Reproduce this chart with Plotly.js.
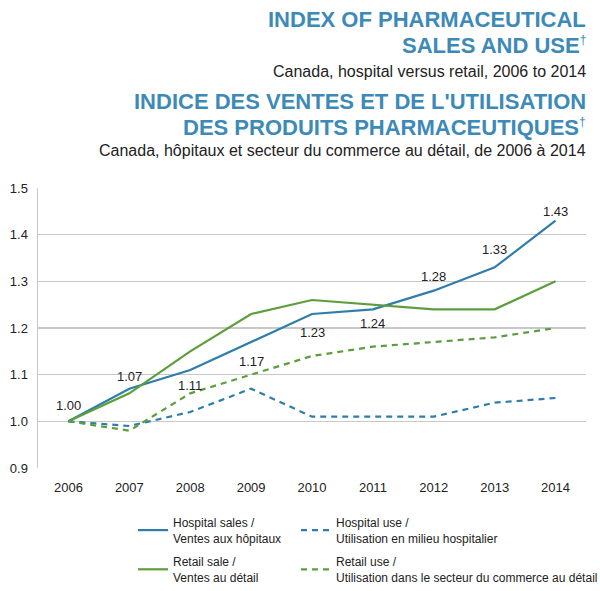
<!DOCTYPE html>
<html><head><meta charset="utf-8">
<script src="https://cdn.plot.ly/plotly-3.0.1.min.js"></script>
<style>body{margin:0;background:#fff}#c{width:600px;height:591px}</style>
</head><body><div id="c"></div>
<script>
const years = ['2006','2007','2008','2009','2010','2011','2012','2013','2014'];
const hospitalSales = [1.00,1.07,1.11,1.17,1.23,1.24,1.28,1.33,1.43];
const retailSales   = [1.00,1.06,1.15,1.23,1.26,1.25,1.24,1.24,1.30];
const hospitalUse   = [1.00,0.99,1.02,1.07,1.01,1.01,1.01,1.04,1.05];
const retailUse     = [1.00,0.98,1.06,1.10,1.14,1.16,1.17,1.18,1.20];
const labelText = ['1.00','1.07','1.11','1.17','1.23','1.24','1.28','1.33','1.43'];
const seriesNames = ['Hospital sales /<br>Ventes aux hôpitaux','Hospital use /<br>Utilisation en milieu hospitalier','Retail sale /<br>Ventes au détail','Retail use /<br>Utilisation dans le secteur du commerce au détail'];

const BLUE='#2f7dab', GREEN='#5c9e3c', TBLUE='#3d8ab8';
const TFONT='Liberation Sans, Arial, sans-serif';
const traces = [
 {x:years,y:hospitalSales,name:seriesNames[0],mode:'lines',line:{color:BLUE,width:2.2},legend:'legend',legendgroup:'a'},
 {x:years,y:retailSales,name:seriesNames[2],mode:'lines',line:{color:GREEN,width:2.2},legend:'legend',legendgroup:'b'},
 {x:years,y:hospitalUse,name:seriesNames[1],mode:'lines',line:{color:BLUE,width:2.2,dash:'6px,5px'},legend:'legend2',legendgroup:'c'},
 {x:years,y:retailUse,name:seriesNames[3],mode:'lines',line:{color:GREEN,width:2.2,dash:'6px,5px'},legend:'legend2',legendgroup:'d'}
];
// label offsets (px) relative to each hospital-sales point
const off = [[0,16],[0,12],[0,-15],[0,-19],[0,-18],[0,-14],[0,14],[0,18],[0,9]];
const ann = labelText.map((t,i)=>({x:i,y:hospitalSales[i],xref:'x',yref:'y',text:t,showarrow:false,
  xshift:off[i][0],yshift:off[i][1],font:{family:'Liberation Sans, Arial',size:13,color:'#222'}}));
const dag = '<sup><span style="font-size:12px">†</span></sup>';
const titles = [
 {t:'<b>INDEX OF PHARMACEUTICAL</b>',y:20,s:22,c:TBLUE},
 {t:'<b>SALES AND USE</b>'+dag,y:45,s:22,c:TBLUE},
 {t:'Canada, hospital versus retail, 2006 to 2014',y:72,s:16,c:'#222'},
 {t:'<b>INDICE DES VENTES ET DE L\'UTILISATION</b>',y:101,s:22,c:TBLUE},
 {t:'<b>DES PRODUITS PHARMACEUTIQUES</b>'+dag,y:127,s:22,c:TBLUE},
 {t:'Canada, hôpitaux et secteur du commerce au détail, de 2006 à 2014',y:150,s:16,c:'#222'}
];
titles.forEach(o=>ann.push({xref:'paper',yref:'paper',x:(588-38)/548,xanchor:'right',yanchor:'middle',
  y:(468-o.y)/280,text:o.t,showarrow:false,font:{family:TFONT,size:o.s,color:o.c}}));

const legBase = {orientation:'v',xref:'paper',yref:'container',yanchor:'top',y:(591-508)/591,
  font:{size:12,color:'#222'},tracegroupgap:5,itemwidth:30,bgcolor:'rgba(0,0,0,0)'};
const layout = {
 width:600,height:591,margin:{l:38,r:14,t:188,b:123,autoexpand:false},
 paper_bgcolor:'#fff',plot_bgcolor:'#fff',
 font:{family:'Liberation Sans, Arial, sans-serif',color:'#222'},
 xaxis:{type:'category',range:[-0.5,8.5],showgrid:false,zeroline:false,showline:false,ticks:'',
   tickfont:{size:13,color:'#222'},ticklabelstandoff:10,fixedrange:true},
 yaxis:{range:[0.9,1.5],dtick:0.1,tickformat:'.1f',showgrid:true,gridcolor:'#c8c8c8',gridwidth:1.5,
   showline:true,linecolor:'#c8c8c8',linewidth:1.5,zeroline:false,ticks:'',tickfont:{size:13,color:'#222'},ticklabelstandoff:6},
 showlegend:true,
 legend:Object.assign({},legBase,{x:(133-38)/548,xanchor:'left'}),
 legend2:Object.assign({},legBase,{x:(296-38)/548,xanchor:'left'}),
 annotations:ann
};
Plotly.newPlot('c',traces,layout,{displayModeBar:false,staticPlot:true});
</script></body></html>
